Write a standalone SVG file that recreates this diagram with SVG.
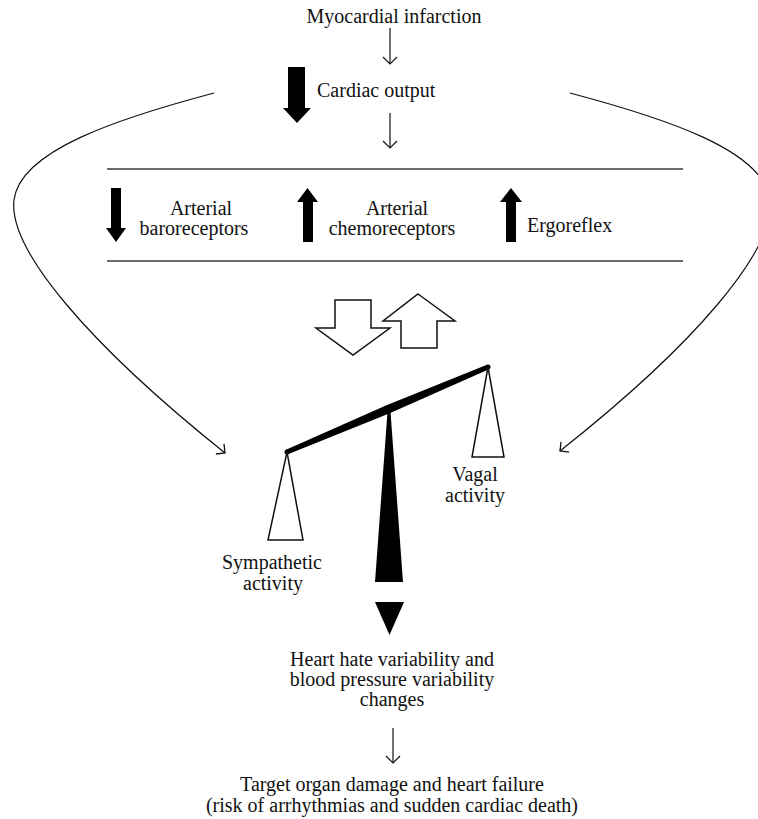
<svg xmlns="http://www.w3.org/2000/svg" width="758" height="819" viewBox="0 0 758 819">
<defs>
<style>
text{font-family:"Liberation Serif","Times New Roman",serif;font-size:20px;fill:#111}
.m{text-anchor:middle}
.thin{fill:none;stroke:#111;stroke-width:1.2}
.rule{stroke:#3a3a3a;stroke-width:1.6}
.blk{fill:#000}
.open{fill:#fff;stroke:#111;stroke-width:1.5;stroke-linejoin:miter}
</style>
<marker id="vh" viewBox="-10 -10 12 20" markerWidth="12" markerHeight="20" refX="0" refY="0" orient="auto" markerUnits="userSpaceOnUse">
<path d="M-6.5,-6.5 L0,0 L-6.5,6.5" fill="none" stroke="#111" stroke-width="1.3"/>
</marker>
</defs>
<rect width="758" height="819" fill="#fff"/>

<g id="connectors">
<line class="thin" x1="390" y1="28" x2="390" y2="64"/>
<polyline class="thin" points="383,57 390,64 397,57"/>
<line class="thin" x1="390" y1="113" x2="390" y2="148"/>
<polyline class="thin" points="383,141 390,148 397,141"/>
<line class="thin" x1="393" y1="728" x2="393" y2="763"/>
<polyline class="thin" points="386,756 393,763 400,756"/>
<path class="thin" d="M214,93 C120,118 20,150 14,200 C8,250 90,345 225,453" marker-end="url(#vh)"/>
<path class="thin" d="M570,93 C664,118 764,150 770,200 C776,250 694,345 560,451" marker-end="url(#vh)"/>
</g>

<g id="node-mi">
<text class="m" x="394" y="23">Myocardial infarction</text>
</g>

<g id="node-cardiac">
<polygon class="blk" points="288,67 305,67 305,108 311,108 297,123 283,108 288,108"/>
<text x="317" y="97">Cardiac output</text>
</g>

<g id="node-reflexes">
<line class="rule" x1="107" y1="169" x2="683" y2="169"/>
<line class="rule" x1="107" y1="261" x2="683" y2="261"/>
<g id="node-baro">
<polygon class="blk" points="111,188 121,188 121,228 126,228 116,242 106,228 111,228"/>
<text class="m" x="201" y="215">Arterial</text>
<text class="m" x="194" y="235">baroreceptors</text>
</g>
<g id="node-chemo">
<polygon class="blk" points="307.5,188 318,202 313,202 313,242 303,242 303,202 297,202"/>
<text class="m" x="397" y="215">Arterial</text>
<text class="m" x="392" y="235">chemoreceptors</text>
</g>
<g id="node-ergo">
<polygon class="blk" points="511,188 522,202 516,202 516,242 506,242 506,202 500,202"/>
<text x="527" y="232">Ergoreflex</text>
</g>
</g>

<g id="node-balance-arrows">
<polygon class="open" points="335,300 371,300 371,328 390,328 353,355 316,328 335,328"/>
<polygon class="open" points="418,294 455,321 437,321 437,348 401,348 401,321 383,321"/>
</g>

<g id="node-balance">
<polygon class="blk" points="286,449.7 385.9,405.6 487,364.7 489,369.3 389.1,413.4 288,454.3"/>
<circle class="blk" cx="287" cy="452" r="2.5"/>
<circle class="blk" cx="488" cy="367" r="2.5"/>
<polygon class="blk" points="387.5,412 390.5,412 403,582 375,582"/>
<polygon class="blk" points="375,602 404,602 389.5,635"/>
<polygon class="open" points="287,452 303,540 268,540"/>
<polygon class="open" points="488,367 504,457 472,457"/>
</g>

<g id="node-vagal">
<text class="m" x="475" y="481">Vagal</text>
<text class="m" x="475" y="502">activity</text>
</g>

<g id="node-sympathetic">
<text class="m" x="272" y="569">Sympathetic</text>
<text class="m" x="273" y="590">activity</text>
</g>

<g id="node-hrv">
<text class="m" x="392" y="666">Heart hate variability and</text>
<text class="m" x="392" y="686">blood pressure variability</text>
<text class="m" x="392" y="706">changes</text>
</g>

<g id="node-outcome">
<text class="m" x="392" y="791">Target organ damage and heart failure</text>
<text class="m" x="392" y="812">(risk of arrhythmias and sudden cardiac death)</text>
</g>
</svg>
